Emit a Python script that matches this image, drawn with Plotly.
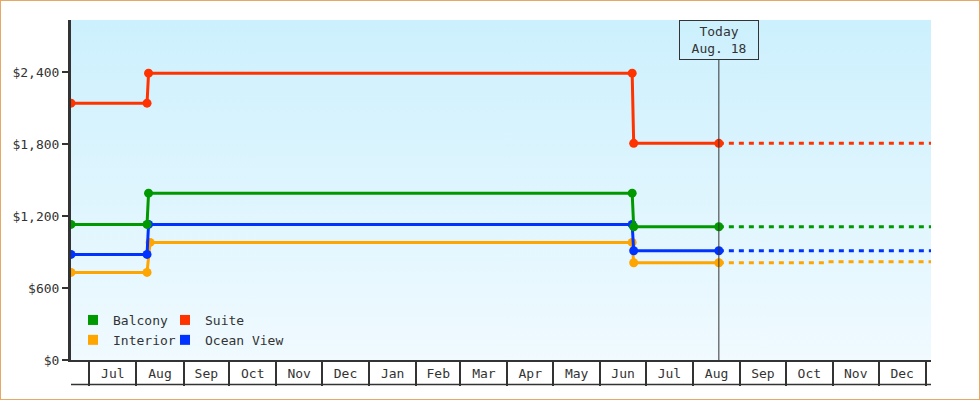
import base64
import plotly.graph_objects as go

# ступенчатые цены по типам кают
step_dates = ["2023-06-19", "2023-08-08", "2023-08-09", "2024-06-22", "2024-06-23", "2024-08-18"]
interior_dates = ["2023-06-19", "2023-08-08", "2023-08-10", "2024-06-22", "2024-06-23", "2024-08-18"]

suite = [2140, 2140, 2390, 2390, 1805, 1805]
balcony = [1130, 1130, 1390, 1390, 1110, 1110]
ocean_view = [880, 880, 1130, 1130, 910, 910]
interior = [730, 730, 980, 980, 810, 810]

# прогноз после "сегодня"
forecast_dates = ["2024-08-18", "2025-01-04 12:00"]
suite_fc = [1805, 1805]
balcony_fc = [1110, 1110]
ocean_view_fc = [910, 910]
interior_fc_dates = ["2024-08-18", "2024-10-27", "2024-10-28", "2025-01-04 12:00"]
interior_fc = [810, 810, 818, 818]

today = "2024-08-18"
x_range = ["2023-06-19", "2025-01-04 12:00"]
y_max = 2833

colors = {
    "Balcony": "#009900",
    "Suite": "#ff3300",
    "Interior": "#ffa500",
    "Ocean View": "#0033ff",
}
FONT = "DejaVu Sans Mono"

W, H = 980, 400
L, R, T, B = 71, 49, 20, 40
PW, PH = W - L - R, H - T - B

fig = go.Figure()

series = [
    ("Interior", interior_dates, interior, interior_fc_dates, interior_fc),
    ("Ocean View", step_dates, ocean_view, forecast_dates, ocean_view_fc),
    ("Balcony", step_dates, balcony, forecast_dates, balcony_fc),
    ("Suite", step_dates, suite, forecast_dates, suite_fc),
]
for name, d, v, fd, fv in series:
    c = colors[name]
    fig.add_trace(go.Scatter(
        x=fd, y=fv, mode="lines", showlegend=False,
        line=dict(color=c, width=3, dash="5px,5px"),
    ))
    fig.add_trace(go.Scatter(
        x=d, y=v, mode="lines+markers", showlegend=False,
        line=dict(color=c, width=3),
        marker=dict(color=c, size=9),
    ))

# легенда: две колонки
for name, lg in [("Balcony", "legend"), ("Interior", "legend"),
                 ("Suite", "legend2"), ("Ocean View", "legend2")]:
    fig.add_trace(go.Scatter(
        x=[None], y=[None], mode="markers", name=name, legend=lg,
        marker=dict(symbol="square", size=10, color=colors[name]),
    ))

svg = ('<svg xmlns="http://www.w3.org/2000/svg" width="10" height="10" preserveAspectRatio="none">'
       '<defs><linearGradient id="g" x1="0" y1="0" x2="0" y2="1">'
       '<stop offset="0" stop-color="#ccf0fd"/><stop offset="1" stop-color="#f0faff"/>'
       '</linearGradient></defs><rect width="10" height="10" fill="url(#g)"/></svg>')
bg = "data:image/svg+xml;base64," + base64.b64encode(svg.encode()).decode()

axis_font = dict(family=FONT, size=13, color="#333")

fig.update_layout(
    width=W, height=H,
    margin=dict(l=L, r=R, t=T, b=B),
    paper_bgcolor="white",
    plot_bgcolor="rgba(0,0,0,0)",
    font=axis_font,
    images=[dict(source=bg, xref="paper", yref="paper", x=0, y=1, sizex=1, sizey=1,
                 sizing="stretch", layer="below", xanchor="left", yanchor="top")],
    xaxis=dict(
        type="date", range=x_range, tickformat="%b", dtick="M1", tick0="2023-07-01",
        ticklabelmode="period", ticks="outside", ticklen=24, tickwidth=1.5, tickcolor="#333",
        ticklabelstandoff=-23,
        showline=True, linecolor="#333", linewidth=1.5, showgrid=False, zeroline=False,
        tickfont=axis_font,
    ),
    yaxis=dict(
        range=[0, y_max], dtick=600, tickprefix="$", tickformat=",d",
        ticks="outside", ticklen=6, tickwidth=2, tickcolor="#333",
        showline=True, linecolor="#333", linewidth=3, showgrid=False, zeroline=False,
        tickfont=axis_font,
    ),
    legend=dict(x=(73 - L) / PW, y=(H - B - 305) / PH, xanchor="left", yanchor="top",
                bgcolor="rgba(0,0,0,0)", font=axis_font, itemwidth=30, tracegroupgap=0),
    legend2=dict(x=(165 - L) / PW, y=(H - B - 305) / PH, xanchor="left", yanchor="top",
                 bgcolor="rgba(0,0,0,0)", font=axis_font, itemwidth=30, tracegroupgap=0),
    shapes=[
        # линия "сегодня"
        dict(type="line", xref="x", yref="paper", x0=today, x1=today,
             y0=0, y1=1 - 40 / PH, line=dict(color="#333", width=1)),
        # нижняя граница подписей месяцев
        dict(type="line", xref="paper", yref="paper", x0=0, x1=1,
             y0=-24.5 / PH, y1=-24.5 / PH, line=dict(color="#333", width=1.5)),
        # рамка
        dict(type="rect", xref="paper", yref="paper",
             x0=-L / PW, x1=1 + R / PW, y0=-B / PH, y1=1 + T / PH,
             line=dict(color="#e8a865", width=2)),
    ],
    annotations=[dict(
        x=today, y=1, xref="x", yref="paper", xanchor="center", yanchor="top",
        text="Today<br>Aug. 18", showarrow=False, width=78, height=38,
        bordercolor="#333", borderwidth=1, borderpad=0, font=axis_font,
    )],
)

fig.write_html("out.html", config={"displayModeBar": False},
               post_script="document.body.style.margin='0';")
